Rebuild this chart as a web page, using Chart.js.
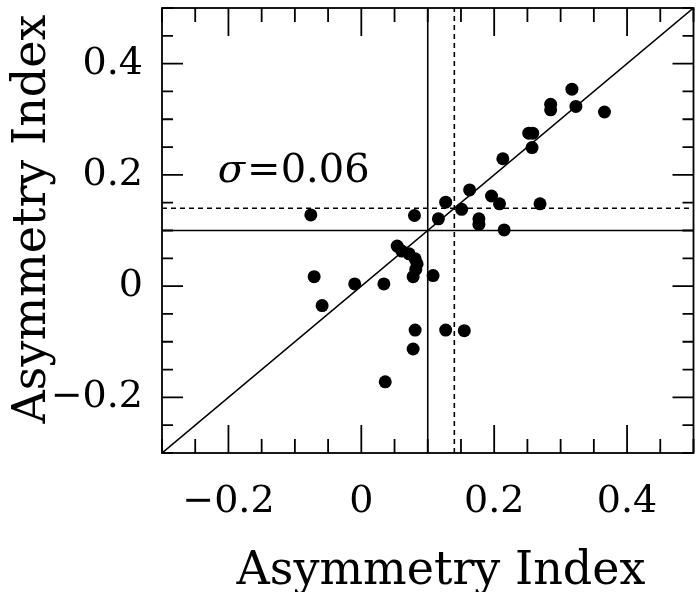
<!DOCTYPE html>
<html lang="en">
<head>
<meta charset="UTF-8">
<title>Asymmetry Index</title>
<style>
  html, body { margin: 0; padding: 0; background: #fff; }
  #wrap { width: 700px; height: 592px; position: relative; }
</style>
</head>
<body>
<div id="wrap"><canvas id="chart"></canvas></div>
<script src="https://cdn.jsdelivr.net/npm/chart.js@4/dist/chart.umd.min.js"></script>
<script>
// measured points (x = one index, y = the other)
const asymX = [-0.076, -0.071, -0.059, -0.010, 0.034, 0.036, 0.054, 0.061, 0.072, 0.081,
               0.084, 0.082, 0.078, 0.108, 0.080, 0.116, 0.127, 0.151, 0.163, 0.177,
               0.177, 0.196, 0.208, 0.215, 0.213, 0.257, 0.252, 0.258, 0.285, 0.285,
               0.323, 0.317, 0.366, 0.269, 0.081, 0.078, 0.127, 0.155];
const asymY = [0.128, 0.017, -0.035, 0.004, 0.004, -0.172, 0.072, 0.063, 0.058, 0.049,
               0.040, 0.030, 0.017, 0.019, 0.127, 0.121, 0.151, 0.138, 0.173, 0.121,
               0.111, 0.162, 0.148, 0.101, 0.229, 0.249, 0.275, 0.275, 0.327, 0.317,
               0.323, 0.354, 0.313, 0.148, -0.079, -0.113, -0.079, -0.080];

const axisRange = [-0.3, 0.5];
const diagonal = [-0.3, 0.5];
const solidCut = 0.1;    // solid reference lines
const dashedCut = 0.14;  // dashed reference lines
const majorTicks = [-0.2, 0, 0.2, 0.4];
const tickLabels = ['\u22120.2', '0', '0.2', '0.4'];
const axisTitle = 'Asymmetry Index';
const sigmaSymbol = '\u03C3';
const sigmaText = '=0.06';
const sigmaAt = { x: -0.216, y: 0.187 };

const FONT = '"DejaVu Serif", "Liberation Serif", serif';

function labelFor(v) {
  const i = majorTicks.findIndex(m => Math.abs(m - v) < 1e-6);
  return i >= 0 ? tickLabels[i] : '';
}
const isMajor = v => labelFor(v) !== '';

const points = asymX.map((x, i) => ({ x, y: asymY[i] }));

const framePlugin = {
  id: 'frame',
  afterDraw(chart) {
    const { ctx, chartArea: a, scales: { x, y } } = chart;
    ctx.save();
    ctx.strokeStyle = '#000';
    ctx.lineWidth = 1.8;
    ctx.strokeRect(a.left, a.top, a.right - a.left, a.bottom - a.top);

    ctx.beginPath();
    x.ticks.forEach(t => {
      const px = x.getPixelForValue(t.value);
      const len = isMajor(t.value) ? 28 : 14;
      ctx.moveTo(px, a.bottom); ctx.lineTo(px, a.bottom - len);
      ctx.moveTo(px, a.top); ctx.lineTo(px, a.top + len);
    });
    y.ticks.forEach(t => {
      const py = y.getPixelForValue(t.value);
      const len = isMajor(t.value) ? 21 : 11;
      ctx.moveTo(a.left, py); ctx.lineTo(a.left + len, py);
      ctx.moveTo(a.right, py); ctx.lineTo(a.right - len, py);
    });
    ctx.stroke();

    // axis titles
    ctx.fillStyle = '#000';
    ctx.font = '46px ' + FONT;
    ctx.textAlign = 'center';
    ctx.textBaseline = 'alphabetic';
    ctx.fillText(axisTitle, a.left + 279, a.bottom + 131);

    ctx.save();
    ctx.translate(45, a.top + 211);
    ctx.rotate(-Math.PI / 2);
    ctx.fillText(axisTitle, 0, 0);
    ctx.restore();

    // sigma annotation
    const sx = x.getPixelForValue(sigmaAt.x);
    const sy = y.getPixelForValue(sigmaAt.y);
    ctx.textAlign = 'left';
    ctx.font = 'italic 40px ' + FONT;
    ctx.fillText(sigmaSymbol, sx, sy);
    const w = ctx.measureText(sigmaSymbol).width;
    ctx.font = '40px ' + FONT;
    ctx.fillText(sigmaText, sx + w + 2, sy);
    ctx.restore();
  }
};

const refLine = (data, dash) => ({
  data,
  showLine: true,
  borderColor: '#000',
  borderWidth: 1.6,
  borderDash: dash,
  pointRadius: 0,
  pointHoverRadius: 0,
  fill: false
});

// fixed box sizes, no overhang padding from edge labels
const fixBox = (w, h) => s => {
  if (w !== null) s.width = w;
  if (h !== null) s.height = h;
  s.paddingTop = 0; s.paddingBottom = 0; s.paddingLeft = 0; s.paddingRight = 0;
};

const axisCommon = {
  type: 'linear',
  min: axisRange[0],
  max: axisRange[1],
  grid: { display: false, drawTicks: false, drawOnChartArea: false },
  border: { display: false },
  ticks: {
    stepSize: 0.05,
    autoSkip: false,
    maxRotation: 0,
    minRotation: 0,
    color: '#000',
    font: { family: FONT, size: 38, lineHeight: 1 },
    callback: v => labelFor(v)
  }
};

new Chart(document.getElementById('chart'), {
  type: 'scatter',
  data: {
    datasets: [
      refLine(diagonal.map(v => ({ x: v, y: v })), []),
      refLine([{ x: solidCut, y: axisRange[0] }, { x: solidCut, y: axisRange[1] }], []),
      refLine([{ x: axisRange[0], y: solidCut }, { x: axisRange[1], y: solidCut }], []),
      refLine([{ x: dashedCut, y: axisRange[0] }, { x: dashedCut, y: axisRange[1] }], [5, 4]),
      refLine([{ x: axisRange[0], y: dashedCut }, { x: axisRange[1], y: dashedCut }], [5, 4]),
      {
        data: points,
        backgroundColor: '#000',
        borderWidth: 0,
        pointRadius: 6.5,
        pointHoverRadius: 6.5
      }
    ]
  },
  options: {
    responsive: true,
    maintainAspectRatio: false,
    animation: false,
    layout: { padding: { top: 8, right: 3, left: 0, bottom: 0 } },
    plugins: { legend: { display: false }, tooltip: { enabled: false } },
    scales: {
      x: Object.assign({}, axisCommon, {
        ticks: Object.assign({}, axisCommon.ticks, { padding: 30 }),
        afterFit: fixBox(null, 139)
      }),
      y: Object.assign({}, axisCommon, {
        ticks: Object.assign({}, axisCommon.ticks, { padding: 19 }),
        afterFit: fixBox(162, null)
      })
    }
  },
  plugins: [framePlugin]
});
</script>
</body>
</html>
